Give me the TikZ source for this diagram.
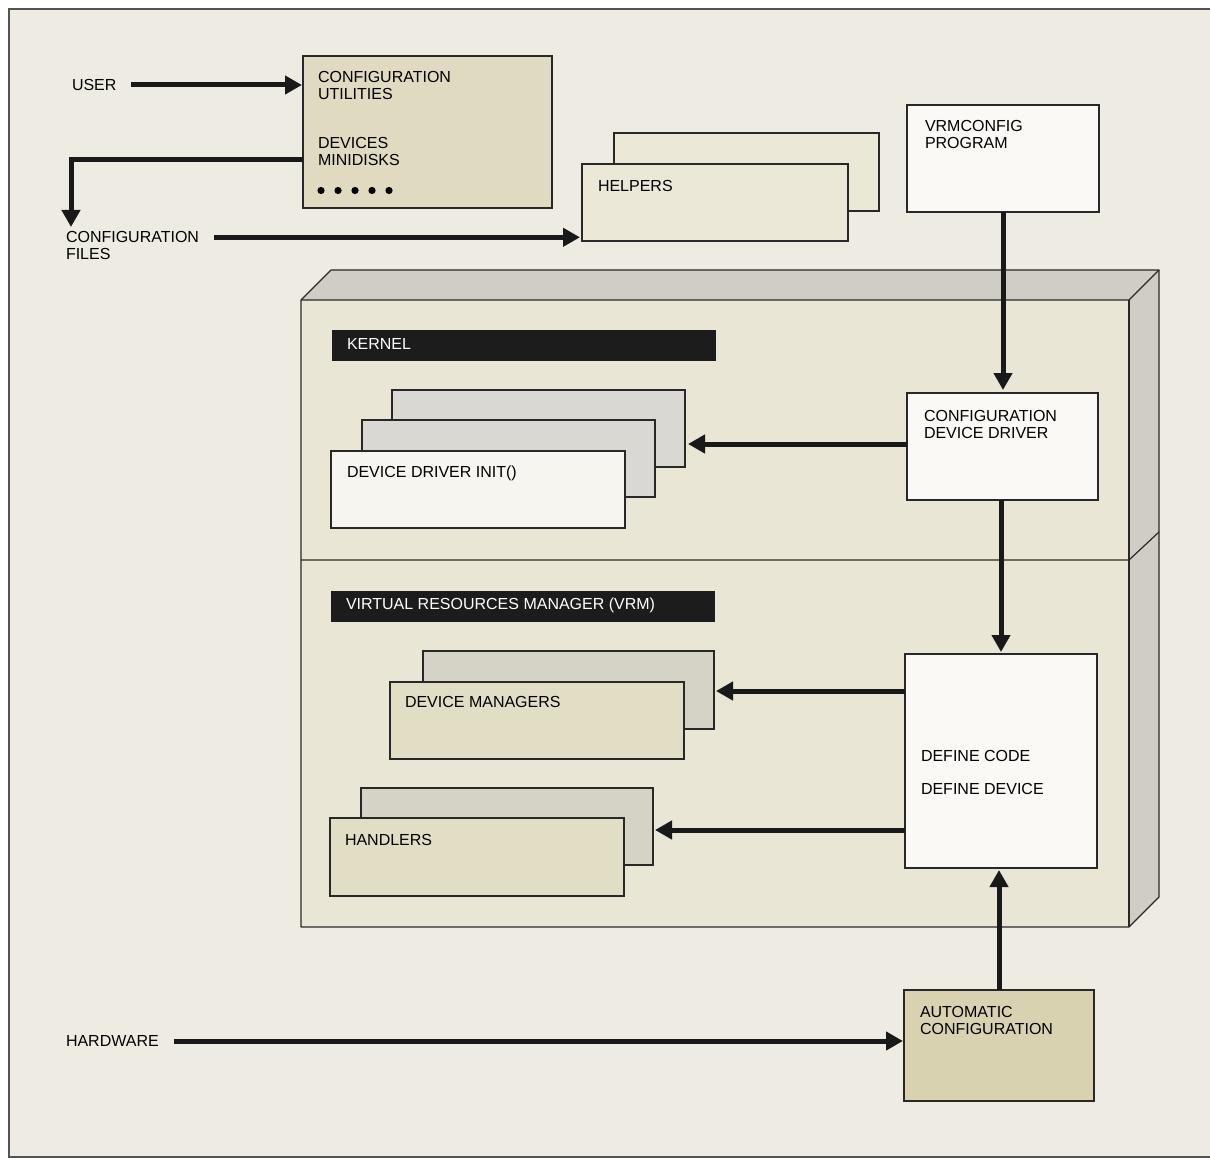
\documentclass[tikz,border=0pt]{standalone}
\usepackage{fontspec}
\setmainfont{Liberation Sans}
\usetikzlibrary{arrows.meta}
\definecolor{pagebg}{RGB}{238,236,226}
\definecolor{facebg}{RGB}{233,230,214}
\definecolor{sidebg}{RGB}{208,206,196}
\definecolor{cubg}{RGB}{223,218,192}
\definecolor{helpbg}{RGB}{235,232,216}
\definecolor{whitebox}{RGB}{250,249,246}
\definecolor{graystack}{RGB}{217,216,210}
\definecolor{frontpage}{RGB}{246,245,240}
\definecolor{dmback}{RGB}{213,210,198}
\definecolor{dmfront}{RGB}{226,222,198}
\definecolor{autobg}{RGB}{216,210,176}
\definecolor{barbg}{RGB}{28,28,28}
\definecolor{edge}{RGB}{40,40,40}
\begin{document}
\begin{tikzpicture}[x=1pt,y=-1pt,
  every node/.style={inner sep=0pt,outer sep=0pt},
  lbl/.style={font=\fontsize{16}{17}\selectfont,align=left,anchor=north west,text=black},
  boxwh/.style 2 args={draw=edge,line width=1.2pt,anchor=north west,minimum width=#1,minimum height=#2},
  arr/.style={line width=5pt,draw=black!90,-{Triangle[length=17pt,width=18pt]}}
]
\useasboundingbox (0,0) rectangle (1210,1158);
\fill[white] (0,0) rectangle (1210,1158);
\fill[pagebg] (9,9) rectangle (1210,1157);
\draw[edge!80,line width=1.5pt] (1210,9) -- (9,9) -- (9,1157) -- (1210,1157);

% ---- top area ----
\node[lbl,anchor=west] (user) at (72,85) {USER};
\node[boxwh={249pt}{152pt},fill=cubg] (cu) at (303,56) {};
\node[lbl] (cutxt) at (318,71.3) {CONFIGURATION\\UTILITIES};
\node[lbl] (devtxt) at (318,137.3) {DEVICES\\MINIDISKS};
\foreach \i in {0,...,4} \fill (321+17*\i,190.5) circle (3.6pt);

\node[lbl] (cfiles) at (66,231.3) {CONFIGURATION\\FILES};

\node[boxwh={265pt}{78pt},fill=helpbg] (hb) at (614,133) {};
\node[boxwh={266pt}{77pt},fill=helpbg] (hf) at (582,164) {};
\node[lbl,anchor=west] (helpers) at (598,186) {HELPERS};

\node[boxwh={192pt}{107pt},fill=whitebox] (vrmc) at (907,105) {};
\node[lbl] (vrmctxt) at (925,120.3) {VRMCONFIG\\PROGRAM};

% ---- 3D box ----
\fill[sidebg] (301,300) -- (331,270) -- (1159,270) -- (1129,300) -- cycle;
\fill[sidebg] (1129,300) -- (1159,270) -- (1159,897) -- (1129,927) -- cycle;
\fill[facebg] (301,300) rectangle (1129,927);
\draw[edge,line width=1.2pt,line join=round] (301,300) -- (331,270) -- (1159,270) -- (1159,897) -- (1129,927) -- (301,927) -- cycle;
\draw[edge,line width=1.2pt] (301,300) -- (1129,300) -- (1159,270);
\draw[edge,line width=1.2pt] (1129,300) -- (1129,927);
\draw[edge,line width=1.2pt] (301,560) -- (1129,560) -- (1159,532);

% kernel
\node[anchor=north west,fill=barbg,minimum width=384pt,minimum height=31pt] (kbar) at (332,330) {};
\node[lbl,anchor=west,text=white] (kernel) at (347,344) {KERNEL};

\node[boxwh={293pt}{77pt},fill=graystack] (ddb) at (392,390) {};
\node[boxwh={293pt}{77pt},fill=graystack] (ddm) at (362,420) {};
\node[boxwh={294pt}{77pt},fill=frontpage] (ddf) at (331,451) {};
\node[lbl,anchor=west] (ddtxt) at (347,473) {DEVICE DRIVER INIT()};

\node[boxwh={191pt}{107pt},fill=whitebox] (cdd) at (907,393) {};
\node[lbl] (cddtxt) at (924,410.3) {CONFIGURATION\\DEVICE DRIVER};

% VRM
\node[anchor=north west,fill=barbg,minimum width=384pt,minimum height=31pt] (vbar) at (331,591) {};
\node[lbl,anchor=west,text=white] (vrmtxt) at (346,605) {VIRTUAL RESOURCES MANAGER (VRM)};

\node[boxwh={291pt}{78pt},fill=dmback] (dmb) at (423,651) {};
\node[boxwh={294pt}{77pt},fill=dmfront] (dmf) at (390,682) {};
\node[lbl,anchor=west] (dmtxt) at (405,702) {DEVICE MANAGERS};

\node[boxwh={292pt}{77pt},fill=dmback] (hdb) at (361,788) {};
\node[boxwh={294pt}{78pt},fill=dmfront] (hdf) at (330,818) {};
\node[lbl,anchor=west] (hdtxt) at (345,840) {HANDLERS};

\node[boxwh={192pt}{214pt},fill=whitebox] (def) at (905,654) {};
\node[lbl,anchor=west] (dcode) at (921,756) {DEFINE CODE};
\node[lbl,anchor=west] (ddev) at (921,789) {DEFINE DEVICE};

% bottom
\node[boxwh={190pt}{111pt},fill=autobg] (auto) at (904,990) {};
\node[lbl] (autotxt) at (920,1006.3) {AUTOMATIC\\CONFIGURATION};
\node[lbl,anchor=west] (hw) at (66,1041) {HARDWARE};

% ---- connectors ----
\draw[arr,shorten >=1pt] ([xshift=15pt]user.east) -- (cu.west |- user.east);
\draw[arr] (cu.west |- 0,160) -| (71,227);
\draw[arr,shorten >=2pt] ([xshift=15pt,yshift=-6pt]cfiles.north east) coordinate (cfa) -- (hf.west |- cfa);
\draw[arr,shorten >=3pt] (vrmc.south -| 1003,0) -- (cdd.north -| 1003,0);
\draw[arr,shorten >=3pt] (cdd.west |- 0,444) -- (ddb.east |- 0,444);
\draw[arr,shorten >=2pt] (cdd.south -| 1001,0) -- (def.north -| 1001,0);
\draw[arr,shorten >=2pt] (def.west |- 0,691) -- (dmb.east |- 0,691);
\draw[arr,shorten >=2pt] (def.west |- 0,830) -- (hdb.east |- 0,830);
\draw[arr,shorten >=2pt] (auto.north -| 999,0) -- (def.south -| 999,0);
\draw[arr,shorten >=1pt] ([xshift=15pt]hw.east) -- (auto.west |- hw.east);
\end{tikzpicture}
\end{document}
